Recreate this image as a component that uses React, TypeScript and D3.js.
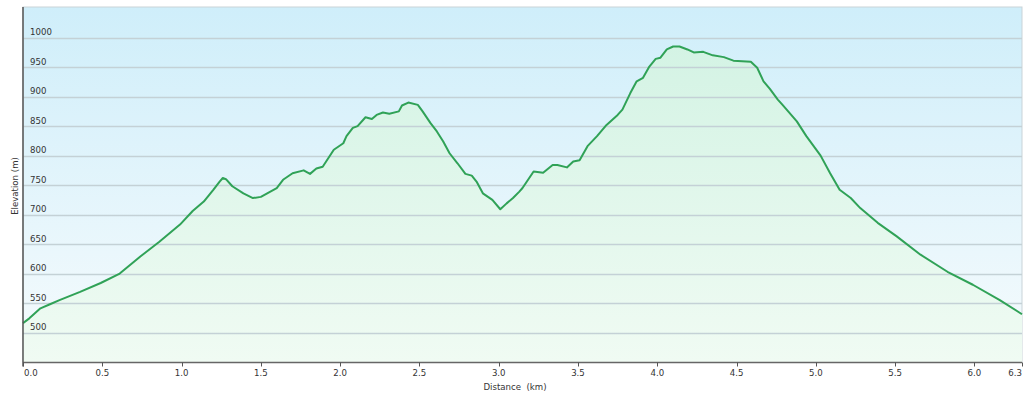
import { useEffect, useRef } from "react";
import * as d3 from "d3";

// elevation profile
const distanceKm = [
  0.0, 0.04, 0.11, 0.17, 0.23, 0.36, 0.49, 0.61, 0.74, 0.86, 0.99, 1.07, 1.14,
  1.2, 1.24, 1.26, 1.28, 1.32, 1.39, 1.45, 1.5, 1.54, 1.6, 1.64, 1.7, 1.77,
  1.81, 1.85, 1.89, 1.96, 2.02, 2.04, 2.08, 2.11, 2.16, 2.2, 2.23, 2.27, 2.31,
  2.37, 2.39, 2.43, 2.49, 2.52, 2.57, 2.61, 2.65, 2.69, 2.74, 2.79, 2.83, 2.86,
  2.9, 2.96, 3.01, 3.05, 3.09, 3.13, 3.15, 3.22, 3.28, 3.34, 3.37, 3.43, 3.47,
  3.51, 3.56, 3.62, 3.68, 3.75, 3.78, 3.83, 3.87, 3.91, 3.95, 3.99, 4.02, 4.06,
  4.1, 4.14, 4.19, 4.23, 4.29, 4.35, 4.42, 4.48, 4.59, 4.63, 4.67, 4.71, 4.76,
  4.79, 4.88, 4.94, 5.03, 5.09, 5.15, 5.22, 5.28, 5.39, 5.51, 5.66, 5.83, 5.99,
  6.16, 6.3,
];
const elevationM = [
  516, 524, 541, 548, 555, 569, 584, 600, 629, 654, 683, 706, 722, 742, 756,
  762, 760, 748, 736, 728, 730, 736, 745, 759, 770, 775, 769, 778, 781, 810,
  821, 833, 847, 850, 865, 862, 869, 873, 871, 875, 885, 890, 886, 875, 855,
  841, 824, 804, 787, 769, 766, 756, 736, 725, 709, 719, 728, 739, 745, 773,
  771, 784, 784, 780, 790, 792, 816, 833, 852, 869, 878, 906, 926, 932, 951,
  964, 966, 980, 985, 985, 980, 975, 976, 970, 967, 961, 959, 949, 926, 913,
  895, 886, 858, 833, 800, 770, 742, 728, 711, 686, 663, 632, 603, 581, 555,
  531,
];
const yTicks = [500, 550, 600, 650, 700, 750, 800, 850, 900, 950, 1000];
const xTicks = [0, 0.5, 1, 1.5, 2, 2.5, 3, 3.5, 4, 4.5, 5, 5.5, 6, 6.3];

export default function App() {
  const svgRef = useRef<SVGSVGElement | null>(null);

  useEffect(() => {
    const width = 1024;
    const height = 396;
    const margin = { top: 7, right: 2, bottom: 34, left: 23 };
    const svg = d3.select(svgRef.current);
    svg.selectAll("*").remove();

    const x = d3
      .scaleLinear()
      .domain([0, 6.3])
      .range([margin.left, width - margin.right]);
    const y = d3
      .scaleLinear()
      .domain([450, 1052])
      .range([height - margin.bottom, margin.top]);

    const data = distanceKm.map((d, i) => ({ d, e: elevationM[i] }));

    const defs = svg.append("defs");
    const bg = defs
      .append("linearGradient")
      .attr("id", "bg")
      .attr("x1", 0)
      .attr("y1", 0)
      .attr("x2", 0)
      .attr("y2", 1);
    bg.append("stop").attr("offset", "0%").attr("stop-color", "#cfeefa");
    bg.append("stop").attr("offset", "100%").attr("stop-color", "#f6fbfd");

    const fill = defs
      .append("linearGradient")
      .attr("id", "fill")
      .attr("gradientUnits", "userSpaceOnUse")
      .attr("x1", 0)
      .attr("y1", y(1000))
      .attr("x2", 0)
      .attr("y2", y(450));
    fill.append("stop").attr("offset", "0%").attr("stop-color", "#d3f3e4");
    fill.append("stop").attr("offset", "100%").attr("stop-color", "#f0fbf3");

    // plot background
    svg
      .append("rect")
      .attr("x", margin.left)
      .attr("y", margin.top)
      .attr("width", width - margin.left - margin.right)
      .attr("height", height - margin.top - margin.bottom)
      .attr("fill", "url(#bg)")
      .attr("stroke", "#c9d3d8");

    // area under the profile
    const area = d3
      .area<{ d: number; e: number }>()
      .x((p) => x(p.d))
      .y0(y(450))
      .y1((p) => y(p.e));
    svg.append("path").datum(data).attr("d", area).attr("fill", "url(#fill)");

    // grid lines + y labels
    const grid = svg.append("g");
    yTicks.forEach((t) => {
      grid
        .append("line")
        .attr("x1", margin.left)
        .attr("x2", width - margin.right)
        .attr("y1", Math.round(y(t)) + 0.5)
        .attr("y2", Math.round(y(t)) + 0.5)
        .attr("stroke", "#c4d1d6")
        .attr("stroke-width", 1.3);
      grid
        .append("text")
        .attr("x", 30)
        .attr("y", y(t) - 2.5)
        .attr("font-family", "DejaVu Sans, Verdana, sans-serif")
        .attr("font-size", "8.6px")
        .attr("fill", "#333")
        .text(t);
    });

    // profile line
    const line = d3
      .line<{ d: number; e: number }>()
      .x((p) => x(p.d))
      .y((p) => y(p.e));
    svg
      .append("path")
      .datum(data)
      .attr("d", line)
      .attr("fill", "none")
      .attr("stroke", "#30a257")
      .attr("stroke-width", 2)
      .attr("stroke-linejoin", "round");

    // axes
    const axisY = height - margin.bottom + 0.5;
    svg
      .append("line")
      .attr("x1", margin.left)
      .attr("x2", width - margin.right)
      .attr("y1", axisY)
      .attr("y2", axisY)
      .attr("stroke", "#666")
      .attr("stroke-width", 1.5);
    svg
      .append("line")
      .attr("x1", margin.left)
      .attr("x2", margin.left)
      .attr("y1", margin.top)
      .attr("y2", axisY + 4)
      .attr("stroke", "#555")
      .attr("stroke-width", 1.5);

    const xg = svg.append("g");
    xTicks.forEach((t, i) => {
      xg.append("line")
        .attr("x1", Math.round(x(t)) + 0.5)
        .attr("x2", Math.round(x(t)) + 0.5)
        .attr("y1", axisY)
        .attr("y2", axisY + 4)
        .attr("stroke", "#555");
      const first = i === 0;
      const last = i === xTicks.length - 1;
      xg.append("text")
        .attr("x", first ? x(t) + 1 : x(t))
        .attr("y", 376)
        .attr("text-anchor", first ? "start" : last ? "end" : "middle")
        .attr("font-family", "DejaVu Sans, Verdana, sans-serif")
        .attr("font-size", "8.6px")
        .attr("fill", "#333")
        .text(t.toFixed(1));
    });

    svg
      .append("text")
      .attr("x", 515)
      .attr("y", 390)
      .attr("text-anchor", "middle")
      .attr("font-family", "DejaVu Sans, Verdana, sans-serif")
      .attr("font-size", "8.6px")
      .attr("fill", "#333")
      .attr("xml:space", "preserve")
      .text("Distance  (km)");

    svg
      .append("text")
      .attr("transform", "translate(18,186) rotate(-90)")
      .attr("text-anchor", "middle")
      .attr("font-family", "DejaVu Sans, Verdana, sans-serif")
      .attr("font-size", "8.6px")
      .attr("fill", "#333")
      .text("Elevation (m)");
  }, []);

  return (
    <svg
      ref={svgRef}
      width={1024}
      height={396}
      style={{ position: "absolute", left: 0, top: 0, background: "#fff" }}
    ></svg>
  );
}
